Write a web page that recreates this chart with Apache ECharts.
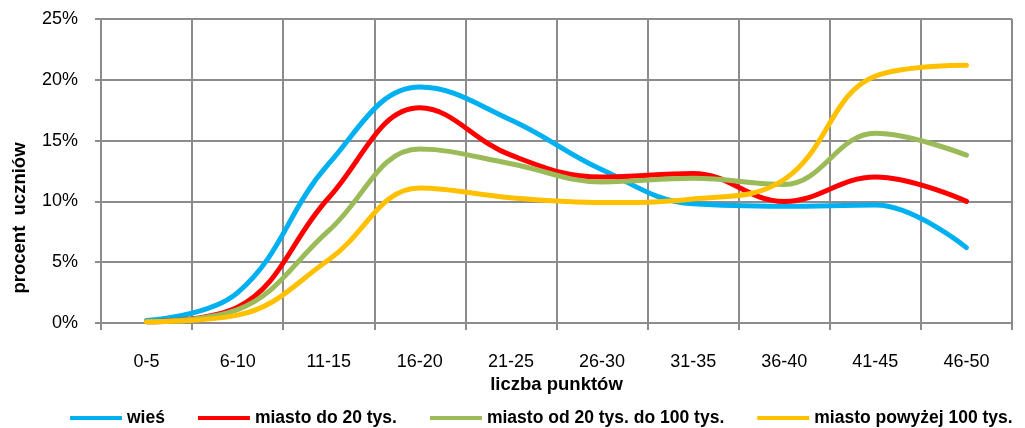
<!DOCTYPE html>
<html>
<head>
<meta charset="utf-8">
<script src="https://cdn.jsdelivr.net/npm/echarts@6/dist/echarts.min.js"></script>
<style>
  html, body { margin: 0; padding: 0; background: #fff; }
  #chart { width: 1025px; height: 428px; }
</style>
</head>
<body>
<div id="chart"></div>
<script>
// przedziały punktowe
const categories = ["0-5", "6-10", "11-15", "16-20", "21-25", "26-30", "31-35", "36-40", "41-45", "46-50"];
// procent uczniów dla każdej grupy
const wies = [0.2, 2.5, 13.1, 19.4, 16.7, 12.6, 9.8, 9.6, 9.7, 6.2];
const miastoDo20 = [0.1, 1.3, 10.3, 17.7, 13.8, 12.0, 12.3, 10.0, 12.0, 10.0];
const miasto20do100 = [0.1, 1.1, 7.6, 14.3, 13.1, 11.6, 11.9, 11.4, 15.6, 13.8];
const miastoPow100 = [0.1, 0.65, 5.2, 11.1, 10.3, 9.9, 10.2, 11.8, 20.3, 21.2];
const yTicks = [0, 5, 10, 15, 20, 25];

const font = "'Liberation Sans', Arial, sans-serif";
const gridColor = "#8c8c8c";

function line(name, data, color) {
  return {
    name: name,
    type: "line",
    data: data,
    smooth: 0.4,
    showSymbol: false,
    lineStyle: { color: color, width: 5, cap: "round", join: "round" },
    itemStyle: { color: color },
  };
}

const chart = echarts.init(document.getElementById("chart"));
chart.setOption({
  animation: false,
  grid: { left: 101, right: 13, top: 19, bottom: 105 },
  xAxis: {
    type: "category",
    data: categories,
    boundaryGap: true,
    name: "liczba punktów",
    nameLocation: "middle",
    nameGap: 52,
    nameTextStyle: { fontFamily: font, fontSize: 18.5, fontWeight: "bold", color: "#000" },
    axisLine: { lineStyle: { color: gridColor, width: 2 } },
    axisTick: { show: true, length: 7, lineStyle: { color: gridColor, width: 2 } },
    axisLabel: { margin: 30, fontFamily: font, fontSize: 18, color: "#000" },
    splitLine: { show: true, interval: 0, lineStyle: { color: gridColor, width: 2 } },
  },
  yAxis: {
    type: "value",
    min: yTicks[0],
    max: yTicks[yTicks.length - 1],
    interval: 5,
    axisLine: { show: true, lineStyle: { color: gridColor, width: 2 } },
    axisTick: { show: true, length: 6, lineStyle: { color: gridColor, width: 2 } },
    axisLabel: { margin: 23, fontFamily: font, fontSize: 18, color: "#000", formatter: "{value}%" },
    splitLine: { show: true, lineStyle: { color: gridColor, width: 2 } },
  },
  // nazwa osi Y przesunięta w dół jak w oryginale
  graphic: [{
    type: "text",
    x: 20,
    y: 218,
    rotation: Math.PI / 2,
    style: {
      text: "procent  uczniów",
      fontFamily: font,
      fontSize: 18.5,
      fontWeight: "bold",
      fill: "#000",
      align: "center",
      verticalAlign: "middle",
    },
  }],
  legend: {
    top: 409,
    left: 70,
    width: 960,
    padding: 0,
    itemWidth: 52,
    itemHeight: 4,
    itemGap: 33,
    icon: "rect",
    textStyle: { fontFamily: font, fontSize: 17.5, fontWeight: "bold", color: "#000" },
  },
  series: [
    line("wieś", wies, "#00b0f0"),
    line("miasto do 20 tys.", miastoDo20, "#ff0000"),
    line("miasto od 20 tys. do 100 tys.", miasto20do100, "#9bbb59"),
    line("miasto powyżej 100 tys.", miastoPow100, "#ffc000"),
  ],
});
</script>
</body>
</html>
